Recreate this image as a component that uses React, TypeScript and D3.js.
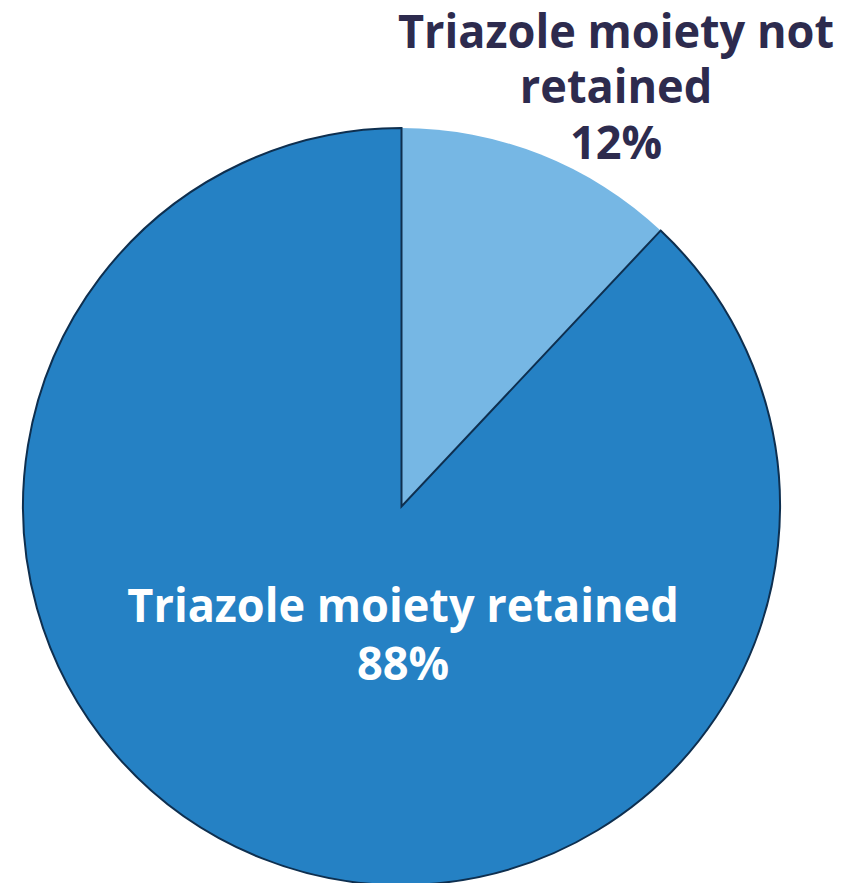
import React from "react";
import * as d3 from "d3";

const categories = ["Triazole moiety not retained", "Triazole moiety retained"];
const values = [12, 88];
const colors = ["#76b7e4", "#2581c4"];
const labelLines = [["Triazole moiety not", "retained", "12%"], ["Triazole moiety retained", "88%"]];

export default function App() {
  const W = 853, H = 883;
  const cx = 401.5, cy = 506.5, r = 378.5;
  const pie = d3.pie<number>().sort(null).value((d) => d)(values);
  const arc = d3.arc<d3.PieArcDatum<number>>().innerRadius(0).outerRadius(r);
  const font = "'Open Sans', 'Noto Sans', sans-serif";
  return (
    <svg width={W} height={H} style={{ position: "absolute", left: 0, top: 0 }}>
      <g transform={`translate(${cx},${cy})`}>
        {pie.map((p, i) => (
          <path key={categories[i]} d={arc(p) || ""} fill={colors[i]}
            stroke={i === 1 ? "#0e2f4f" : "none"} strokeWidth={2} strokeLinejoin="miter" />
        ))}
      </g>
      <g fontFamily={font} fontWeight={700} fontSize={46} textAnchor="middle">
        <g transform="translate(616,0) scale(0.98,1)">
          {labelLines[0].map((t, j) => (
            <text key={t} x={0} y={48 + j * 55.5} fill="#2d2b4e">{t}</text>
          ))}
        </g>
        <g transform="translate(403,0) scale(0.98,1)">
          {labelLines[1].map((t, j) => (
            <text key={t} x={0} y={622 + j * 58} fill="#ffffff">{t}</text>
          ))}
        </g>
      </g>
    </svg>
  );
}
